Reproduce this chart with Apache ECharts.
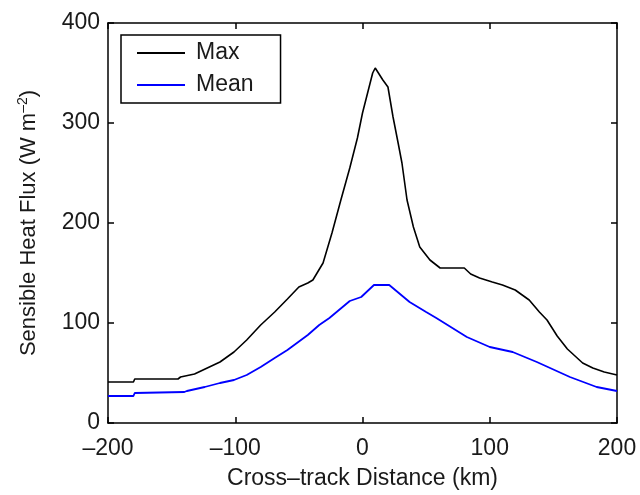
<!DOCTYPE html>
<html>
<head>
<meta charset="utf-8">
<script src="https://cdn.jsdelivr.net/npm/echarts@6/dist/echarts.min.js"></script>
<style>html,body{margin:0;padding:0;background:#fff;}#c{width:640px;height:495px;}</style>
</head>
<body>
<div id="c"></div>
<script>
// Cross-track distance (km) and sensible heat flux (W m^-2)
const maxDist = [-200,-180,-179,-145,-143,-132,-122,-112,-101,-91,-80,-69,-59,-50,-43,-39,-31,-24,-17,-10,-4,0,4,8,10,16,20,24,28,31,35,40,45,53,61,80,85,92,102,110,120,131,139,145,153,161,173,181,190,200];
const maxVals = [41,41,44,44,46,49,55,61,71,83,98,111,124,136,140,143,160,190,223,255,285,310,330,350,355,343,336,306,280,260,223,196,176,163,155,155,149,145,141,138,133,123,111,103,87,74,60,55,51,48];
const meanDist = [-200,-180,-179,-140,-138,-124,-112,-101,-91,-80,-69,-59,-43,-34,-26,-10,-1,9,21,37,50,58,82,100,118,137,163,184,200];
const meanVals = [27,27,30,31,32,36,40,43,48,56,65,73,88,98,105,122,126,138,138,121,111,105,86,76,71,61,46,36,32];
const xTicks = [-200,-100,0,100,200];
const yTicks = [0,100,200,300,400];
const seriesNames = ['Max','Mean'];

const pair = (xs, ys) => xs.map((x,i)=>[x, ys[i]]);
const font = 'Liberation Sans, Arial, Helvetica, sans-serif';
const txt = '#1a1a1a';
const chart = echarts.init(document.getElementById('c'), null, {renderer:'canvas'});
const axisLine = {show:true, onZero:false, lineStyle:{color:'#000', width:1.5}};
const tick = {show:true, inside:true, length:6, lineStyle:{color:'#000', width:1.5}};
chart.setOption({
  backgroundColor:'#fff',
  animation:false,
  grid:{left:108, right:23, top:23, bottom:72, show:false},
  legend:{
    data:seriesNames, orient:'vertical', left:121, top:35,
    padding:[5,27,5,16], itemGap:6, itemWidth:48, itemHeight:2, icon:'rect',
    borderColor:'#000', borderWidth:1.5, backgroundColor:'#fff',
    textStyle:{fontFamily:font, fontSize:23, color:txt, padding:[0,0,0,6], lineHeight:26}
  },
  xAxis:[{
    type:'value', min:xTicks[0], max:xTicks[xTicks.length-1], interval:100,
    name:'Cross–track Distance (km)', nameLocation:'middle', nameGap:44,
    nameTextStyle:{fontFamily:font, fontSize:23, color:txt},
    axisLine:axisLine, axisTick:tick, splitLine:{show:false},
    axisLabel:{fontFamily:font, fontSize:23, color:txt, margin:14,
      formatter:v=>String(v).replace('-','–')}
  },{
    type:'value', position:'top', min:xTicks[0], max:xTicks[xTicks.length-1], interval:100,
    axisLine:axisLine, axisTick:tick, axisLabel:{show:false}, splitLine:{show:false}
  }],
  yAxis:[{
    type:'value', min:yTicks[0], max:yTicks[yTicks.length-1], interval:100,
    name:'{a|Sensible Heat Flux (W m}{s|–2}{a|)}', nameLocation:'middle', nameGap:66,
    nameTextStyle:{fontFamily:font, fontSize:22, color:txt,
      rich:{a:{fontFamily:font, fontSize:22, color:txt},
            s:{fontFamily:font, fontSize:14, color:txt, verticalAlign:'top', padding:[0,0,12,0]}}},
    axisLine:axisLine, axisTick:tick, splitLine:{show:false},
    axisLabel:{fontFamily:font, fontSize:23, color:txt, margin:8}
  },{
    type:'value', position:'right', min:yTicks[0], max:yTicks[yTicks.length-1], interval:100,
    axisLine:axisLine, axisTick:tick, axisLabel:{show:false}, splitLine:{show:false}
  }],
  series:[
    {name:seriesNames[0], type:'line', data:pair(maxDist,maxVals), showSymbol:false, symbol:'none',
     lineStyle:{color:'#000', width:1.6}, itemStyle:{color:'#000'}},
    {name:seriesNames[1], type:'line', data:pair(meanDist,meanVals), showSymbol:false, symbol:'none',
     lineStyle:{color:'#0000ff', width:1.8}, itemStyle:{color:'#0000ff'}}
  ]
});
</script>
</body>
</html>
